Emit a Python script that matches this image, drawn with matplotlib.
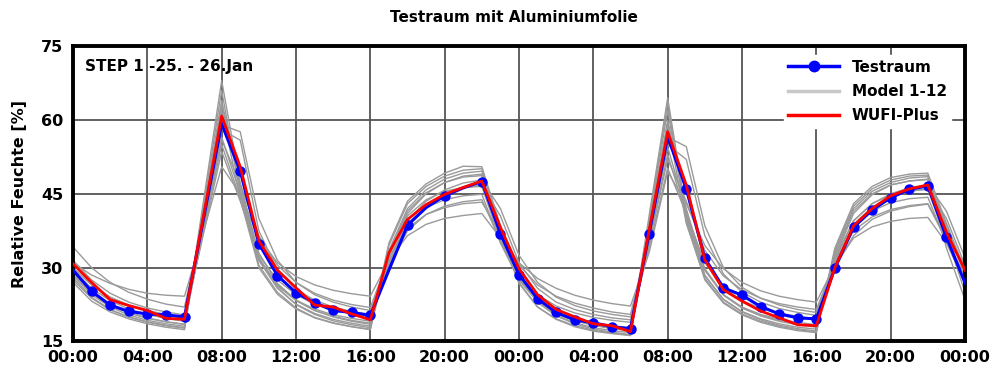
import matplotlib
matplotlib.use("Agg")
import matplotlib.pyplot as plt
from matplotlib.lines import Line2D

plt.rcParams['font.family'] = ['DejaVu Sans']
plt.rcParams['font.weight'] = 'bold'

# Stunden 0..48 (25. - 26. Jan)
stunden = list(range(49))

testraum = [29.5, 25.2, 22.4, 21.1, 20.6, 20.4, 20.0, 39.5, 59.2, 49.6, 34.9, 28.4, 24.9,
            22.9, 21.3, 20.9, 20.3, 29.5, 38.6, 42.2, 44.6, 46.2, 47.5, 36.9, 28.6,
            23.7, 20.9, 19.4, 18.8, 18.0, 17.6, 36.9, 56.6, 46.0, 31.9, 25.9, 24.4,
            22.1, 20.6, 19.8, 19.6, 29.9, 38.2, 41.7, 44.2, 45.9, 46.6, 36.2, 26.9]
# Stunden mit Messpunkt-Symbol
testraum_marker = [1, 2, 3, 4, 5, 6, 9, 10, 11, 12, 13, 14, 15, 16, 18, 20, 22, 23,
                   24, 25, 26, 27, 28, 29, 30, 31, 33, 34, 35, 36, 37, 38, 39, 40,
                   41, 42, 43, 44, 45, 46, 47]

wufi = [30.8, 27.0, 23.5, 22.3, 21.3, 19.7, 19.5, 40.0, 60.8, 50.5, 35.5, 29.5, 25.9,
        22.4, 22.0, 20.6, 19.4, 33.0, 39.8, 42.8, 44.9, 46.3, 47.6, 38.2, 29.8,
        24.5, 21.5, 20.0, 18.6, 18.2, 17.0, 37.5, 57.6, 46.8, 31.6, 25.5, 23.2,
        21.2, 19.8, 18.4, 18.2, 30.0, 38.5, 42.0, 44.6, 46.0, 46.8, 37.2, 29.5]

# Model 1-12
model_a = [28.0, 24.0, 21.5, 20.0, 19.0, 18.3, 17.8, 43.0, 68.0, 47.0, 32.0, 26.0, 22.5,
           20.5, 19.2, 18.4, 17.8, 35.0, 43.5, 47.0, 49.2, 50.6, 50.5, 38.5, 28.5,
           23.0, 20.2, 18.6, 17.5, 16.9, 16.4, 40.5, 64.5, 41.0, 28.5, 23.5, 21.0,
           19.4, 18.3, 17.6, 17.1, 34.0, 43.0, 46.5, 48.3, 49.0, 49.2, 39.0, 29.5]
model_b = [27.0, 23.2, 21.0, 19.6, 18.6, 17.9, 17.4, 42.0, 66.0, 45.0, 30.5, 25.0, 21.8,
           19.9, 18.8, 18.0, 17.4, 34.5, 43.0, 46.5, 48.6, 49.8, 50.1, 37.5, 27.0,
           22.0, 19.5, 18.0, 17.1, 16.6, 16.2, 39.5, 63.5, 39.5, 27.5, 22.8, 20.4,
           18.9, 17.9, 17.2, 16.8, 33.5, 42.5, 46.0, 47.8, 48.6, 48.8, 36.5, 25.0]
model_c = [28.5, 24.5, 22.0, 20.4, 19.3, 18.6, 18.1, 41.0, 64.0, 46.0, 31.5, 25.8, 22.6,
           20.7, 19.5, 18.7, 18.1, 33.5, 42.0, 45.8, 48.0, 49.2, 49.6, 38.0, 28.0,
           23.0, 20.3, 18.8, 17.8, 17.2, 16.8, 39.0, 62.0, 40.0, 28.3, 23.6, 21.1,
           19.6, 18.6, 17.9, 17.5, 33.0, 42.0, 45.5, 47.3, 48.2, 48.5, 38.0, 28.5]
model_d = [29.0, 25.0, 22.5, 20.9, 19.8, 19.0, 18.5, 40.5, 63.0, 47.0, 33.0, 26.8, 23.4,
           21.3, 20.0, 19.1, 18.5, 32.5, 41.0, 45.0, 47.3, 48.6, 49.0, 38.5, 29.0,
           23.8, 21.0, 19.4, 18.3, 17.6, 17.2, 38.0, 60.0, 42.0, 29.5, 24.4, 21.8,
           20.2, 19.1, 18.4, 17.9, 32.0, 41.0, 44.8, 46.8, 47.6, 48.0, 38.5, 29.0]
model_e = [27.5, 23.8, 21.4, 19.9, 18.9, 18.2, 17.7, 40.0, 62.0, 44.0, 30.0, 24.6, 21.6,
           19.8, 18.7, 18.0, 17.5, 33.0, 41.5, 45.2, 47.3, 48.4, 48.7, 36.5, 26.8,
           22.0, 19.6, 18.2, 17.3, 16.7, 16.3, 38.5, 59.0, 39.0, 27.8, 23.0, 20.6,
           19.1, 18.1, 17.4, 16.9, 32.5, 41.5, 45.0, 46.8, 47.6, 47.9, 34.0, 23.5]
model_f = [31.5, 27.5, 24.8, 23.0, 21.8, 21.0, 20.4, 40.0, 59.0, 57.6, 40.0, 31.5, 27.0,
           24.5, 23.0, 22.0, 21.3, 31.0, 39.5, 43.5, 45.8, 47.2, 47.8, 42.0, 32.5,
           27.0, 24.0, 22.3, 21.2, 20.5, 20.0, 37.0, 56.5, 54.6, 38.5, 30.0, 26.0,
           23.8, 22.4, 21.5, 20.9, 31.5, 39.5, 43.0, 45.0, 46.2, 46.8, 41.5, 32.0]
model_g = [30.0, 26.5, 24.0, 22.4, 21.3, 20.5, 19.9, 39.0, 58.0, 55.9, 37.5, 29.5, 25.6,
           23.4, 22.0, 21.1, 20.5, 30.5, 38.5, 42.5, 44.8, 46.2, 46.8, 40.5, 31.0,
           25.8, 23.0, 21.5, 20.5, 19.8, 19.4, 36.0, 55.0, 52.0, 36.5, 28.7, 25.0,
           23.0, 21.7, 20.9, 20.3, 31.0, 38.8, 42.3, 44.3, 45.5, 46.0, 40.0, 30.5]
model_h = [28.5, 24.8, 22.4, 20.8, 19.7, 19.0, 18.5, 37.5, 56.5, 45.0, 32.0, 26.5, 23.3,
           21.3, 20.1, 19.3, 18.7, 33.0, 40.5, 43.8, 45.5, 46.3, 46.5, 35.5, 27.5,
           23.0, 20.6, 19.2, 18.3, 17.7, 17.3, 36.0, 54.5, 41.5, 29.8, 24.5, 21.9,
           20.3, 19.3, 18.6, 18.1, 32.0, 39.5, 43.0, 44.8, 45.6, 45.9, 35.5, 27.0]
model_i = [29.5, 25.8, 23.3, 21.6, 20.5, 19.7, 19.1, 37.0, 55.0, 44.0, 31.5, 26.3, 23.4,
           21.6, 20.4, 19.7, 19.1, 32.0, 39.0, 42.2, 43.8, 44.6, 44.9, 35.0, 27.5,
           23.3, 21.0, 19.7, 18.8, 18.2, 17.8, 35.0, 53.0, 40.5, 29.5, 24.5, 22.0,
           20.5, 19.5, 18.9, 18.4, 31.0, 38.0, 41.5, 43.2, 44.0, 44.3, 35.0, 27.0]
model_j = [30.0, 26.5, 24.0, 22.3, 21.1, 20.3, 19.7, 36.5, 53.6, 43.5, 32.5, 27.5, 24.5,
           22.6, 21.4, 20.6, 20.0, 30.5, 37.5, 40.8, 42.5, 43.4, 43.8, 35.5, 28.5,
           24.5, 22.2, 20.8, 19.9, 19.3, 18.9, 34.0, 50.2, 41.0, 31.0, 26.0, 23.3,
           21.8, 20.8, 20.1, 19.6, 30.0, 36.5, 39.8, 41.5, 42.4, 42.9, 35.5, 28.5]
model_k = [31.0, 28.5, 26.8, 25.6, 24.8, 24.4, 24.2, 37.0, 50.5, 45.0, 36.0, 31.0, 28.2,
           26.5, 25.4, 24.7, 24.2, 31.5, 36.5, 38.8, 40.0, 40.6, 41.0, 36.0, 31.0,
           27.8, 25.8, 24.4, 23.4, 22.7, 22.2, 33.0, 49.5, 43.0, 34.5, 29.8, 27.0,
           25.3, 24.2, 23.5, 23.0, 30.5, 36.0, 38.3, 39.4, 40.0, 40.2, 35.0, 31.0]
model_l = [34.2, 30.0, 27.0, 25.0, 23.6, 22.6, 22.0, 39.0, 56.0, 47.0, 36.5, 30.5, 27.0,
           24.8, 23.4, 22.5, 21.9, 32.0, 38.0, 40.8, 42.2, 43.0, 43.3, 37.0, 30.5,
           26.5, 24.2, 22.8, 21.8, 21.0, 20.5, 35.0, 52.0, 43.5, 33.5, 28.3, 25.5,
           23.8, 22.7, 22.0, 21.5, 31.0, 37.5, 40.3, 41.8, 42.6, 43.0, 36.0, 30.0]
modelle = [model_a, model_b, model_c, model_d, model_e, model_f,
           model_g, model_h, model_i, model_j, model_k, model_l]

xticks = list(range(0, 49, 4))
xlabels = ["00:00", "04:00", "08:00", "12:00", "16:00", "20:00",
           "00:00", "04:00", "08:00", "12:00", "16:00", "20:00", "00:00"]
yticks = [15, 30, 45, 60, 75]

fig = plt.figure(figsize=(10, 3.72), dpi=100)
ax = fig.add_axes([0.073, 0.082, 0.892, 0.794])

for m in modelle:
    ax.plot(stunden, m, color='#9a9a9a', linewidth=1.0, zorder=2)
ax.plot(stunden, testraum, color='blue', linewidth=2.2, marker='o',
        markersize=6.5, markevery=testraum_marker, zorder=3)
ax.plot(stunden, wufi, color='red', linewidth=2.0, zorder=4)

ax.set_xlim(0, 48)
ax.set_ylim(15, 75)
ax.set_xticks(xticks)
ax.set_xticklabels(xlabels)
ax.set_yticks(yticks)
ax.tick_params(length=0, labelsize=11.5)
ax.tick_params(axis='x', pad=6)
ax.tick_params(axis='y', pad=7)
ax.grid(True, color='#555555', linewidth=1.3, zorder=1)
ax.set_axisbelow(True)
for s in ax.spines.values():
    s.set_linewidth(2.8)
    s.set_color('black')

ax.set_ylabel("Relative Feuchte [%]", fontsize=11.5, fontweight='bold', labelpad=10)
fig.suptitle("Testraum mit Aluminiumfolie", fontsize=11, fontweight='bold',
             x=0.514, y=0.952, va='center')
ax.text(0.013, 0.955, "STEP 1 -25. - 26.Jan", transform=ax.transAxes,
        fontsize=11, fontweight='bold', va='top', ha='left', zorder=6)

handles = [
    Line2D([], [], color='blue', linewidth=2.5, marker='o', markersize=7.5),
    Line2D([], [], color='#c8c8c8', linewidth=2.5),
    Line2D([], [], color='red', linewidth=2.5),
]
leg = ax.legend(handles, ["Testraum", "Model 1-12", "WUFI-Plus"],
                loc='upper right', bbox_to_anchor=(0.99, 0.985),
                prop={'size': 11, 'weight': 'bold'}, handlelength=3.3,
                frameon=True, fancybox=False, borderpad=0.3,
                labelspacing=0.6, handletextpad=0.85, borderaxespad=0.3)
leg.get_frame().set_edgecolor('white')
leg.get_frame().set_facecolor('white')
leg.get_frame().set_alpha(1.0)
leg.set_zorder(7)

fig.savefig("out.png", dpi=100)
